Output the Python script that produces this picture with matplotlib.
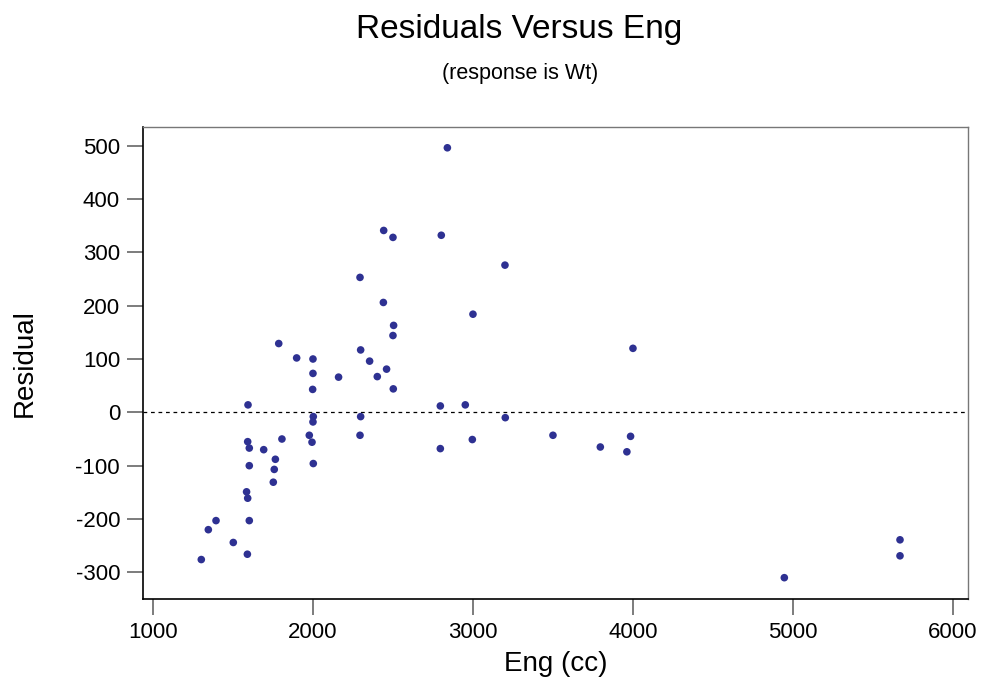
import matplotlib.pyplot as plt

plt.rcParams['font.family'] = ['Liberation Sans', 'DejaVu Sans']
plt.rcParams['axes.unicode_minus'] = False

# Engine size (cc) and residuals
eng = [1302, 1346, 1394, 1502, 1585, 1592, 1590, 1602, 1594, 1592,
       1602, 1602, 1692, 1752, 1758, 1765, 1786, 1806, 1898, 1977,
       2000, 2000, 1998, 2002, 2000, 1994, 2002, 2160, 2294, 2298,
       2298, 2294, 2354, 2402, 2442, 2440, 2460, 2500, 2504, 2500,
       2502, 2802, 2840, 2796, 2796, 2952, 3000, 2996, 3200, 3202,
       3500, 3796, 3962, 3985, 4000, 4946, 5669, 5669]
resid = [-276, -220, -203, -244, -149, -161, -266, -203, 14, -55,
         -67, -100, -70, -131, -107, -88, 129, -50, 102, -43,
         100, 73, 43, -8, -18, -56, -96, 66, 253, 117,
         -8, -43, 96, 67, 341, 206, 81, 328, 163, 144,
         44, 332, 496, 12, -68, 14, 184, -51, 276, -10,
         -43, -65, -74, -45, 120, -310, -239, -269]

xticks = [1000, 2000, 3000, 4000, 5000, 6000]
yticks = [-300, -200, -100, 0, 100, 200, 300, 400, 500]

fig = plt.figure(figsize=(9.84, 6.89), dpi=100)
ax = fig.add_axes([0.1453, 0.1306, 0.8384, 0.6851])

ax.scatter(eng, resid, s=30, color='#2E3192', edgecolors='none', zorder=3)
ax.axhline(0, color='black', linestyle=(0, (3, 3)), linewidth=0.9, zorder=2)

ax.set_xlim(937.5, 6093.75)
ax.set_ylim(-350, 535)
ax.set_xticks(xticks)
ax.set_yticks(yticks)
ax.tick_params(direction='out', length=11.5, width=1.2, labelsize=16, color='#666666', pad=5)

for side in ['top', 'right']:
    ax.spines[side].set_color('#777777')
    ax.spines[side].set_linewidth(1)
for side in ['left', 'bottom']:
    ax.spines[side].set_color('black')
    ax.spines[side].set_linewidth(1.2)

ax.set_xlabel('Eng (cc)', fontsize=20, labelpad=6)
ax.set_ylabel('Residual', fontsize=20, labelpad=27)

fig.text(0.528, 0.957, 'Residuals Versus Eng', ha='center', va='center', fontsize=24)
fig.text(0.529, 0.893, '(response is Wt)', ha='center', va='center', fontsize=15.5)

fig.savefig('out.png', dpi=100)
